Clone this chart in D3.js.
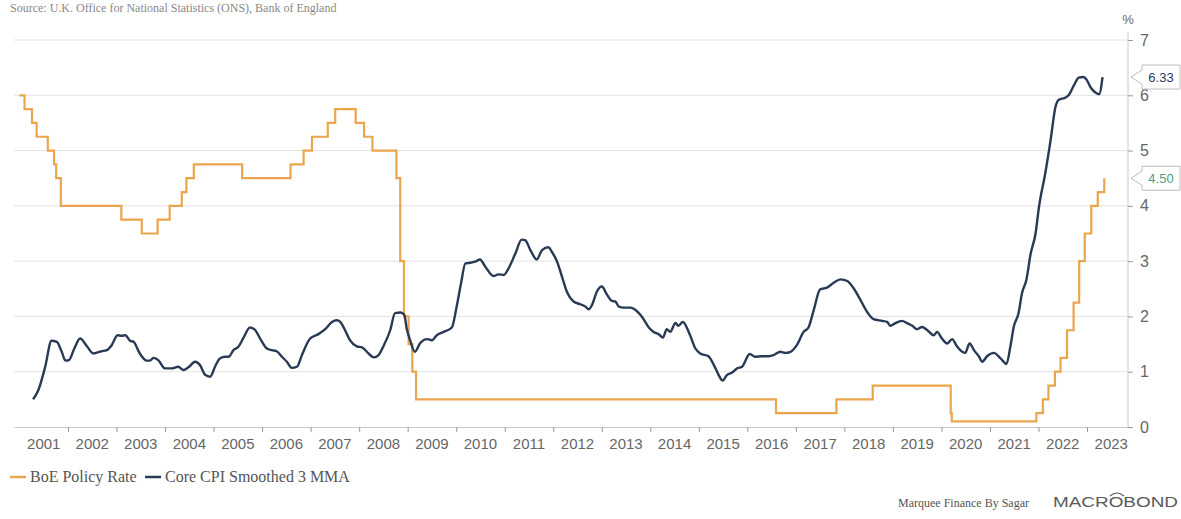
<!DOCTYPE html>
<html>
<head>
<meta charset="utf-8">
<script src="https://cdn.jsdelivr.net/npm/d3@7"></script>
<style>
  html, body { margin: 0; padding: 0; background: #fff; }
  #chart { width: 1181px; height: 519px; }
  svg { display: block; }
</style>
</head>
<body>
<div id="chart"></div>
<script>
// BoE policy rate: date of each change and the new rate (%)
const rateDates = [
  "2001-01-01", "2001-02-08", "2001-04-05", "2001-05-10", "2001-08-02", "2001-09-18",
  "2001-10-04", "2001-11-08", "2003-02-06", "2003-07-10", "2003-11-06", "2004-02-05",
  "2004-05-06", "2004-06-10", "2004-08-05", "2005-08-04", "2006-08-03", "2006-11-09",
  "2007-01-11", "2007-05-10", "2007-07-05", "2007-12-06", "2008-02-07", "2008-04-10",
  "2008-10-08", "2008-11-06", "2008-12-04", "2009-01-08", "2009-02-05", "2009-03-05",
  "2016-08-04", "2017-11-02", "2018-08-02", "2020-03-11", "2020-03-19", "2021-12-16",
  "2022-02-03", "2022-03-17", "2022-05-05", "2022-06-16", "2022-08-04", "2022-09-22",
  "2022-11-03", "2022-12-15", "2023-02-02", "2023-03-23", "2023-05-11"
];
const rateValues = [
  6.00, 5.75, 5.50, 5.25, 5.00, 4.75,
  4.50, 4.00, 3.75, 3.50, 3.75, 4.00,
  4.25, 4.50, 4.75, 4.50, 4.75, 5.00,
  5.25, 5.50, 5.75, 5.50, 5.25, 5.00,
  4.50, 3.00, 2.00, 1.50, 1.00, 0.50,
  0.25, 0.50, 0.75, 0.25, 0.10, 0.25,
  0.50, 0.75, 1.00, 1.25, 1.75, 2.25,
  3.00, 3.50, 4.00, 4.25, 4.50
];

// Core CPI smoothed 3 MMA (decimal year, %)
const cpiYears = [
  2001.28, 2001.39, 2001.53, 2001.66, 2001.77, 2001.87, 2001.95, 2002.02, 2002.13, 2002.25,
  2002.39, 2002.52, 2002.69, 2002.80, 2002.90, 2003.02, 2003.11, 2003.18, 2003.28, 2003.35,
  2003.48, 2003.62, 2003.69, 2003.76, 2003.86, 2004.00, 2004.14, 2004.27, 2004.38, 2004.48,
  2004.62, 2004.72, 2004.82, 2004.93, 2005.03, 2005.13, 2005.24, 2005.31, 2005.41, 2005.51,
  2005.62, 2005.75, 2005.86, 2005.96, 2006.10, 2006.20, 2006.30, 2006.41, 2006.51, 2006.61,
  2006.72, 2006.82, 2006.99, 2007.16, 2007.30, 2007.44, 2007.54, 2007.61, 2007.71, 2007.81,
  2007.95, 2008.06, 2008.16, 2008.30, 2008.40, 2008.50, 2008.64, 2008.74, 2008.85, 2008.93,
  2008.98, 2009.05, 2009.15, 2009.26, 2009.40, 2009.50, 2009.60, 2009.74, 2009.91, 2010.01,
  2010.10, 2010.19, 2010.29, 2010.39, 2010.49, 2010.60, 2010.77, 2010.87, 2010.98, 2011.08,
  2011.22, 2011.35, 2011.42, 2011.53, 2011.66, 2011.77, 2011.90, 2011.97, 2012.08, 2012.18,
  2012.28, 2012.42, 2012.56, 2012.66, 2012.73, 2012.80, 2012.90, 2013.00, 2013.11, 2013.21,
  2013.28, 2013.35, 2013.45, 2013.59, 2013.69, 2013.83, 2013.97, 2014.07, 2014.17, 2014.26,
  2014.34, 2014.41, 2014.52, 2014.58, 2014.67, 2014.82, 2014.93, 2015.03, 2015.20, 2015.31,
  2015.41, 2015.49, 2015.58, 2015.68, 2015.79, 2015.89, 2016.05, 2016.16, 2016.30, 2016.44,
  2016.54, 2016.68, 2016.78, 2016.89, 2017.02, 2017.16, 2017.26, 2017.37, 2017.50, 2017.64,
  2017.78, 2017.92, 2018.06, 2018.19, 2018.33, 2018.47, 2018.60, 2018.78, 2018.88, 2018.95,
  2019.05, 2019.19, 2019.29, 2019.40, 2019.50, 2019.60, 2019.71, 2019.84, 2019.91, 2020.01,
  2020.12, 2020.22, 2020.32, 2020.43, 2020.49, 2020.58, 2020.67, 2020.77, 2020.84, 2020.94,
  2021.08, 2021.22, 2021.34, 2021.42, 2021.49, 2021.59, 2021.66, 2021.75, 2021.84, 2021.94,
  2022.01, 2022.14, 2022.25, 2022.35, 2022.42, 2022.56, 2022.62, 2022.73, 2022.83, 2022.93,
  2023.00, 2023.07, 2023.16, 2023.25, 2023.32
];
const cpiValues = [
  0.50, 0.67, 1.09, 1.56, 1.54, 1.36, 1.20, 1.21, 1.42, 1.60,
  1.46, 1.33, 1.37, 1.39, 1.48, 1.66, 1.65, 1.66, 1.56, 1.54,
  1.33, 1.20, 1.20, 1.25, 1.21, 1.06, 1.06, 1.09, 1.03, 1.08,
  1.18, 1.12, 0.95, 0.91, 1.09, 1.24, 1.27, 1.27, 1.39, 1.45,
  1.62, 1.80, 1.75, 1.60, 1.42, 1.39, 1.37, 1.27, 1.18, 1.07,
  1.09, 1.30, 1.60, 1.68, 1.77, 1.90, 1.93, 1.90, 1.75, 1.57,
  1.46, 1.44, 1.36, 1.26, 1.30, 1.46, 1.75, 2.06, 2.07, 2.03,
  1.78, 1.57, 1.36, 1.52, 1.59, 1.57, 1.66, 1.72, 1.80, 2.18,
  2.60, 2.96, 2.97, 2.99, 3.03, 2.90, 2.73, 2.76, 2.75, 2.87,
  3.14, 3.39, 3.38, 3.20, 3.03, 3.20, 3.25, 3.17, 2.99, 2.72,
  2.45, 2.27, 2.22, 2.18, 2.13, 2.21, 2.45, 2.54, 2.39, 2.28,
  2.27, 2.18, 2.16, 2.16, 2.12, 1.99, 1.80, 1.72, 1.68, 1.62,
  1.77, 1.72, 1.88, 1.83, 1.90, 1.66, 1.42, 1.33, 1.28, 1.12,
  0.94, 0.84, 0.94, 0.98, 1.06, 1.09, 1.32, 1.27, 1.28, 1.28,
  1.30, 1.36, 1.34, 1.36, 1.48, 1.72, 1.80, 2.12, 2.49, 2.52,
  2.61, 2.67, 2.64, 2.51, 2.30, 2.08, 1.95, 1.92, 1.90, 1.83,
  1.88, 1.92, 1.88, 1.83, 1.77, 1.81, 1.75, 1.66, 1.72, 1.60,
  1.51, 1.59, 1.46, 1.36, 1.34, 1.51, 1.39, 1.28, 1.18, 1.28,
  1.34, 1.24, 1.14, 1.45, 1.81, 2.06, 2.42, 2.66, 3.14, 3.50,
  3.98, 4.59, 5.19, 5.79, 5.92, 5.96, 6.00, 6.18, 6.32, 6.33,
  6.27, 6.15, 6.06, 6.02, 6.33
];

const axisYears = d3.range(2001, 2024);
const yTicks = [0, 1, 2, 3, 4, 5, 6, 7];

const seriesNames = ["BoE Policy Rate", "Core CPI Smoothed 3 MMA"];
const sourceText = "Source: U.K. Office for National Statistics (ONS), Bank of England";

const width = 1181, height = 519;
const orange = "#eba54c";
const navy = "#293a55";
const labelGrey = "#666";

function decimalYear(s) {
  const d = new Date(s + "T00:00:00Z");
  const y = d.getUTCFullYear();
  const start = Date.UTC(y, 0, 1), end = Date.UTC(y + 1, 0, 1);
  return y + (d - start) / (end - start);
}

const rateData = rateDates.map((d, i) => ({ x: decimalYear(d), v: rateValues[i] }));
const cpiData = cpiYears.map((x, i) => ({ x, v: cpiValues[i] }));

const svg = d3.select("#chart").append("svg")
  .attr("width", width)
  .attr("height", height)
  .attr("viewBox", `0 0 ${width} ${height}`);

const x = d3.scaleLinear().domain([2000.887, 2023.845]).range([14, 1128]);
const y = d3.scaleLinear().domain([0, 7]).range([427, 40]);

// source line at the very top
svg.append("text")
  .attr("x", 10).attr("y", 12)
  .attr("font-family", "Liberation Serif, Times New Roman, serif")
  .attr("font-size", 12)
  .attr("fill", "#888")
  .text(sourceText);

// gridlines
svg.append("g")
  .selectAll("line")
  .data(yTicks.filter(t => t > 0))
  .join("line")
  .attr("x1", x.range()[0]).attr("x2", x.range()[1])
  .attr("y1", d => y(d)).attr("y2", d => y(d))
  .attr("stroke", "#e2e2e2")
  .attr("stroke-width", 1);

// x axis: ticks at each January, labels centred in the year
const xAxisG = svg.append("g")
  .attr("transform", `translate(0,${y(0)})`)
  .call(d3.axisBottom(x)
    .tickValues(axisYears.slice(1))
    .tickSize(5)
    .tickSizeOuter(0)
    .tickFormat(""));
xAxisG.select(".domain").attr("stroke", "#c8c8c8");
xAxisG.selectAll(".tick line").attr("stroke", "#9a9a9a");

svg.append("g")
  .selectAll("text")
  .data(axisYears)
  .join("text")
  .attr("x", d => x(d + 0.5))
  .attr("y", 449)
  .attr("text-anchor", "middle")
  .attr("font-family", "Liberation Sans, Arial, sans-serif")
  .attr("font-size", 15)
  .attr("fill", labelGrey)
  .text(d => d);

// right y axis
const yAxisG = svg.append("g")
  .attr("transform", `translate(${x.range()[1]},0)`)
  .call(d3.axisRight(y)
    .tickValues(yTicks)
    .tickFormat(d3.format("d"))
    .tickSize(5)
    .tickSizeOuter(0)
    .tickPadding(7));
yAxisG.select(".domain").attr("stroke", "#c8c8c8").attr("d", `M0,32V${y(0)}`);
yAxisG.selectAll(".tick line").attr("stroke", "#9a9a9a");
yAxisG.selectAll(".tick text")
  .attr("font-family", "Liberation Sans, Arial, sans-serif")
  .attr("font-size", 16)
  .attr("fill", labelGrey);

svg.append("text")
  .attr("x", 1128).attr("y", 24)
  .attr("text-anchor", "middle")
  .attr("font-family", "Liberation Sans, Arial, sans-serif")
  .attr("font-size", 13)
  .attr("fill", labelGrey)
  .text("%");

// lines
const stepLine = d3.line().x(d => x(d.x)).y(d => y(d.v)).curve(d3.curveStepAfter);
const smoothLine = d3.line().x(d => x(d.x)).y(d => y(d.v)).curve(d3.curveMonotoneX);

svg.append("path")
  .datum(rateData)
  .attr("fill", "none")
  .attr("stroke", orange)
  .attr("stroke-width", 2.2)
  .attr("d", stepLine);

svg.append("path")
  .datum(cpiData)
  .attr("fill", "none")
  .attr("stroke", navy)
  .attr("stroke-width", 2.4)
  .attr("stroke-linejoin", "round")
  .attr("d", smoothLine);

// last-value callouts
const callouts = [
  { v: cpiValues[cpiValues.length - 1], color: navy },
  { v: rateValues[rateValues.length - 1], color: "#4f9c84" }
];
const callG = svg.append("g")
  .selectAll("g")
  .data(callouts)
  .join("g")
  .attr("transform", d => `translate(0,${y(d.v)})`);

callG.append("path")
  .attr("d", "M1131,0 L1142,-7 L1142,-12 L1180,-12 L1180,12 L1142,12 L1142,7 Z")
  .attr("fill", "#fff")
  .attr("stroke", "#bdbdbd")
  .attr("stroke-width", 1);

callG.append("text")
  .attr("x", 1161).attr("y", 4.5)
  .attr("text-anchor", "middle")
  .attr("font-family", "Liberation Sans, Arial, sans-serif")
  .attr("font-size", 13)
  .attr("fill", d => d.color)
  .text(d => d.v.toFixed(2));

// legend
const legendItems = [
  { name: seriesNames[0], color: orange, x: 10 },
  { name: seriesNames[1], color: navy, x: 145 }
];
const lg = svg.append("g")
  .selectAll("g")
  .data(legendItems)
  .join("g")
  .attr("transform", d => `translate(${d.x},477)`);
lg.append("line")
  .attr("x1", 0).attr("x2", 16)
  .attr("stroke", d => d.color)
  .attr("stroke-width", 2.5);
lg.append("text")
  .attr("x", 20).attr("y", 5)
  .attr("font-family", "Liberation Serif, Times New Roman, serif")
  .attr("font-size", 16)
  .attr("fill", "#555")
  .text(d => d.name);

// footer
svg.append("text")
  .attr("x", 898).attr("y", 507)
  .attr("font-family", "Liberation Serif, Times New Roman, serif")
  .attr("font-size", 12)
  .attr("fill", "#555")
  .text("Marquee Finance By Sagar");

svg.append("text")
  .attr("x", 1053).attr("y", 507)
  .attr("font-family", "Liberation Sans, Arial, sans-serif")
  .attr("font-size", 15)
  .attr("textLength", 125)
  .attr("lengthAdjust", "spacingAndGlyphs")
  .attr("fill", "#5a5a5a")
  .text("MACROBOND");

svg.append("path")
  .attr("d", "M1110,496 Q1117,490 1124,496")
  .attr("fill", "none")
  .attr("stroke", "#5a5a5a")
  .attr("stroke-width", 1.2);
</script>
</body>
</html>
